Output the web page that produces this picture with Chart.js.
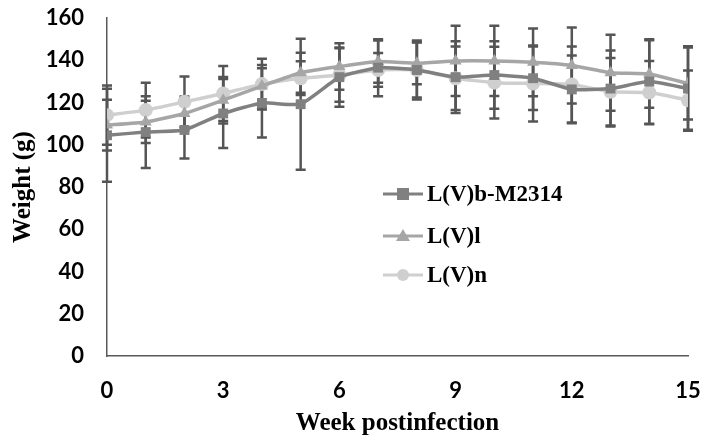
<!DOCTYPE html>
<html>
<head>
<meta charset="utf-8">
<script src="https://cdn.jsdelivr.net/npm/chart.js@4"></script>
<style>
  html, body { margin: 0; padding: 0; background: #fff; }
  #wrap { width: 710px; height: 441px; }
</style>
</head>
<body>
<div id="wrap"><canvas id="weightChart" width="710" height="441"></canvas></div>
<script>
const weeks = [0, 1, 2, 3, 4, 5, 6, 7, 8, 9, 10, 11, 12, 13, 14, 15];

const seriesNames = ["L(V)b-M2314", "L(V)l", "L(V)n"];

const m2314Mean = [104.5, 106, 107, 114.8, 119.8, 119.2, 132, 136.5, 135.4, 132, 133, 131.5, 126.2, 126.6, 129.9, 126.6];
const m2314Err  = [22, 17, 13.5, 16.3, 16.4, 31, 14, 13.5, 13, 17, 16, 15, 16, 18, 20, 20];

const lMean = [109.3, 110.8, 114.8, 121.1, 127.8, 134.1, 137, 139.4, 138.6, 139.7, 139.7, 139, 137.5, 134.1, 133.5, 129];
const lErr  = [12, 10, 8, 11, 10, 9.5, 11, 10, 10, 16.6, 16.6, 16, 18, 18, 16, 17];

const nMean = [114, 116.4, 120.3, 124.3, 128.7, 131.5, 133, 135.4, 135.4, 131.5, 129.4, 129, 128.5, 125.1, 124.7, 121.1];
const nErr  = [14, 13, 12, 13, 12, 8, 12.7, 8, 14, 15, 17, 18, 18, 16, 15, 14];

const colors = ["#808080", "#a6a6a6", "#cfcfcf"];
const styles = ["rect", "triangle", "circle"];
const means = [m2314Mean, lMean, nMean];
const errs = [m2314Err, lErr, nErr];

const tickFont = { family: "Lato", weight: "bold", size: 22 };
const titleFont = { family: "Liberation Serif", weight: "bold", size: 25 };

// error bars, drawn through the chart's own scales
const errorBars = {
  id: "errorBars",
  beforeDatasetsDraw(chart) {
    const { ctx, scales: { x, y } } = chart;
    ctx.save();
    ctx.strokeStyle = "#555555";
    ctx.lineWidth = 2.5;
    errs.forEach((err, s) => {
      weeks.forEach((w, i) => {
        const px = x.getPixelForValue(w);
        const top = y.getPixelForValue(means[s][i] + err[i]);
        const bot = y.getPixelForValue(means[s][i] - err[i]);
        ctx.beginPath();
        ctx.moveTo(px, top); ctx.lineTo(px, bot);
        ctx.moveTo(px - 5, top); ctx.lineTo(px + 5, top);
        ctx.moveTo(px - 5, bot); ctx.lineTo(px + 5, bot);
        ctx.stroke();
      });
    });
    ctx.restore();
  },
};

// legend inside the plot
const innerLegend = {
  id: "innerLegend",
  afterDatasetsDraw(chart) {
    const { ctx, chartArea } = chart;
    const x0 = chartArea.left + (chartArea.right - chartArea.left) * 0.475;
    const rows = [194, 236, 275];
    ctx.save();
    seriesNames.forEach((name, i) => {
      const yy = rows[i];
      ctx.strokeStyle = colors[i];
      ctx.lineWidth = 3;
      ctx.beginPath();
      ctx.moveTo(x0, yy); ctx.lineTo(x0 + 40, yy);
      ctx.stroke();
      ctx.fillStyle = colors[i];
      ctx.beginPath();
      if (styles[i] === "rect") {
        ctx.rect(x0 + 14, yy - 6, 12, 12);
      } else if (styles[i] === "triangle") {
        ctx.moveTo(x0 + 20, yy - 7); ctx.lineTo(x0 + 27, yy + 5); ctx.lineTo(x0 + 13, yy + 5); ctx.closePath();
      } else {
        ctx.arc(x0 + 20, yy, 6, 0, Math.PI * 2);
      }
      ctx.fill();
      ctx.fillStyle = "#000";
      ctx.font = "bold 23px 'Liberation Serif'";
      ctx.textBaseline = "middle";
      ctx.fillText(name, x0 + 44, yy + 1);
    });
    ctx.restore();
  },
};

new Chart(document.getElementById("weightChart"), {
  type: "line",
  data: {
    datasets: seriesNames.map((name, s) => ({
      label: name,
      data: weeks.map((w, i) => ({ x: w, y: means[s][i] })),
      borderColor: colors[s],
      backgroundColor: colors[s],
      borderWidth: 3.5,
      pointStyle: styles[s],
      pointRadius: 7,
      pointBorderWidth: 0,
      tension: 0.15,
    })),
  },
  options: {
    responsive: false,
    animation: false,
    layout: { padding: { top: 18, right: 22, left: 0, bottom: 0 } },
    plugins: { legend: { display: false }, tooltip: { enabled: false } },
    scales: {
      x: {
        type: "linear",
        min: 0, max: 15,
        grid: { display: false, drawTicks: false },
        border: { display: true, color: "#595959", width: 1.5 },
        ticks: { stepSize: 3, color: "#000", font: tickFont, padding: 22 },
        title: { display: true, text: "Week postinfection", color: "#000", font: titleFont, padding: { top: 0, bottom: 2 } },
        afterFit(s) { s.height = 85; s.paddingLeft = 0; s.paddingRight = 0; },
      },
      y: {
        min: 0, max: 160,
        grid: { display: false, drawTicks: false },
        border: { display: true, color: "#595959", width: 1.5 },
        ticks: { stepSize: 20, color: "#000", font: tickFont, padding: 23 },
        title: { display: true, text: "Weight (g)", color: "#000", font: titleFont, padding: { top: 9, bottom: 0 } },
        afterFit(s) { s.width = 107; s.paddingTop = 0; s.paddingBottom = 0; },
      },
    },
  },
  plugins: [errorBars, innerLegend],
});
</script>
</body>
</html>
